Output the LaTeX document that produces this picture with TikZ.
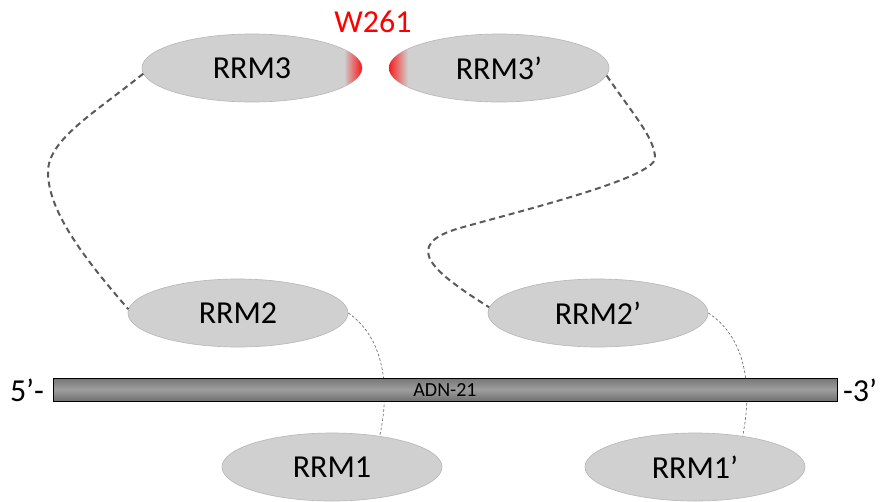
\documentclass[tikz,border=0pt]{standalone}
\usepackage{fontspec}
\setmainfont{Carlito}
\usetikzlibrary{shapes.geometric}
\definecolor{ellfill}{RGB}{208,208,208}
\definecolor{elldraw}{RGB}{185,185,185}
\definecolor{linkgray}{RGB}{90,90,90}
\definecolor{thingray}{RGB}{110,110,110}
\definecolor{bartop}{RGB}{118,118,118}
\definecolor{barmid}{RGB}{158,158,158}
\definecolor{barbot}{RGB}{112,112,112}
\definecolor{wred}{RGB}{255,0,0}
\tikzset{
  rrm/.style={ellipse, fill=ellfill, draw=elldraw, line width=0.5pt,
    minimum width=165pt, minimum height=51pt, inner sep=0pt,
    font=\fontsize{24}{28}\selectfont},
  thicklink/.style={draw=linkgray, line width=1.5pt, dash pattern=on 4.5pt off 3pt},
  thinlink/.style={draw=thingray, line width=0.5pt, dash pattern=on 2pt off 1.5pt},
  dnabar/.style={rectangle, draw=black, line width=0.6pt, top color=bartop,
    bottom color=barbot, middle color=barmid, minimum width=588pt,
    minimum height=17.25pt, inner sep=0pt, font=\fontsize{15}{18}\selectfont},
  endlabel/.style={font=\fontsize{24}{28}\selectfont, inner sep=0pt},
}
\begin{document}
\begin{tikzpicture}[x=0.75pt, y=-0.75pt]
\useasboundingbox (0,0) rectangle (880,501);
% domains
\node[rrm] (rrm3)  at (252,68)  {RRM3};
\node[rrm] (rrm3p) at (499,68)  {RRM3’};
\node[rrm] (rrm2)  at (238,313) {RRM2};
\node[rrm] (rrm2p) at (598,313) {RRM2’};
\node[rrm] (rrm1)  at (332,467) {RRM1};
\node[rrm] (rrm1p) at (695,467) {RRM1’};
% red W261 patches
\begin{scope}
  \clip (rrm3.center) ellipse [x radius=82.5pt, y radius=25.5pt];
  \shade[left color=ellfill, right color=wred] (344,30) rectangle (364,106);
\end{scope}
\begin{scope}
  \clip (rrm3p.center) ellipse [x radius=82.5pt, y radius=25.5pt];
  \shade[left color=wred, right color=ellfill] (386,30) rectangle (408,106);
\end{scope}
\node[text=wred, font=\fontsize{24}{28}\selectfont, inner sep=0pt] (w261) at (373,22) {W261};
% linkers
\draw[thicklink] (rrm3.183) .. controls (93,114) and (48,140) .. (48,172)
  .. controls (48,210) and (82,256) .. (rrm2.178);
\draw[thicklink] (rrm3p.-4) .. controls (632,113) and (655,138) .. (655,158)
  .. controls (655,178) and (520,211) .. (460,228)
  .. controls (400,245) and (433,272) .. (rrm2p.177);
\draw[thinlink] (rrm2.east) .. controls (380,335) and (392,380) .. (rrm1.33);
\draw[thinlink] (rrm2p.east) .. controls (742,335) and (754,380) .. (rrm1p.33);
% RNA
\node[dnabar] (adn) at (445,389.5) {ADN-21};
\node[endlabel] (five) at (27,390) {5’-};
\node[endlabel] (three) at (860,390) {-3’};
\end{tikzpicture}
\end{document}
